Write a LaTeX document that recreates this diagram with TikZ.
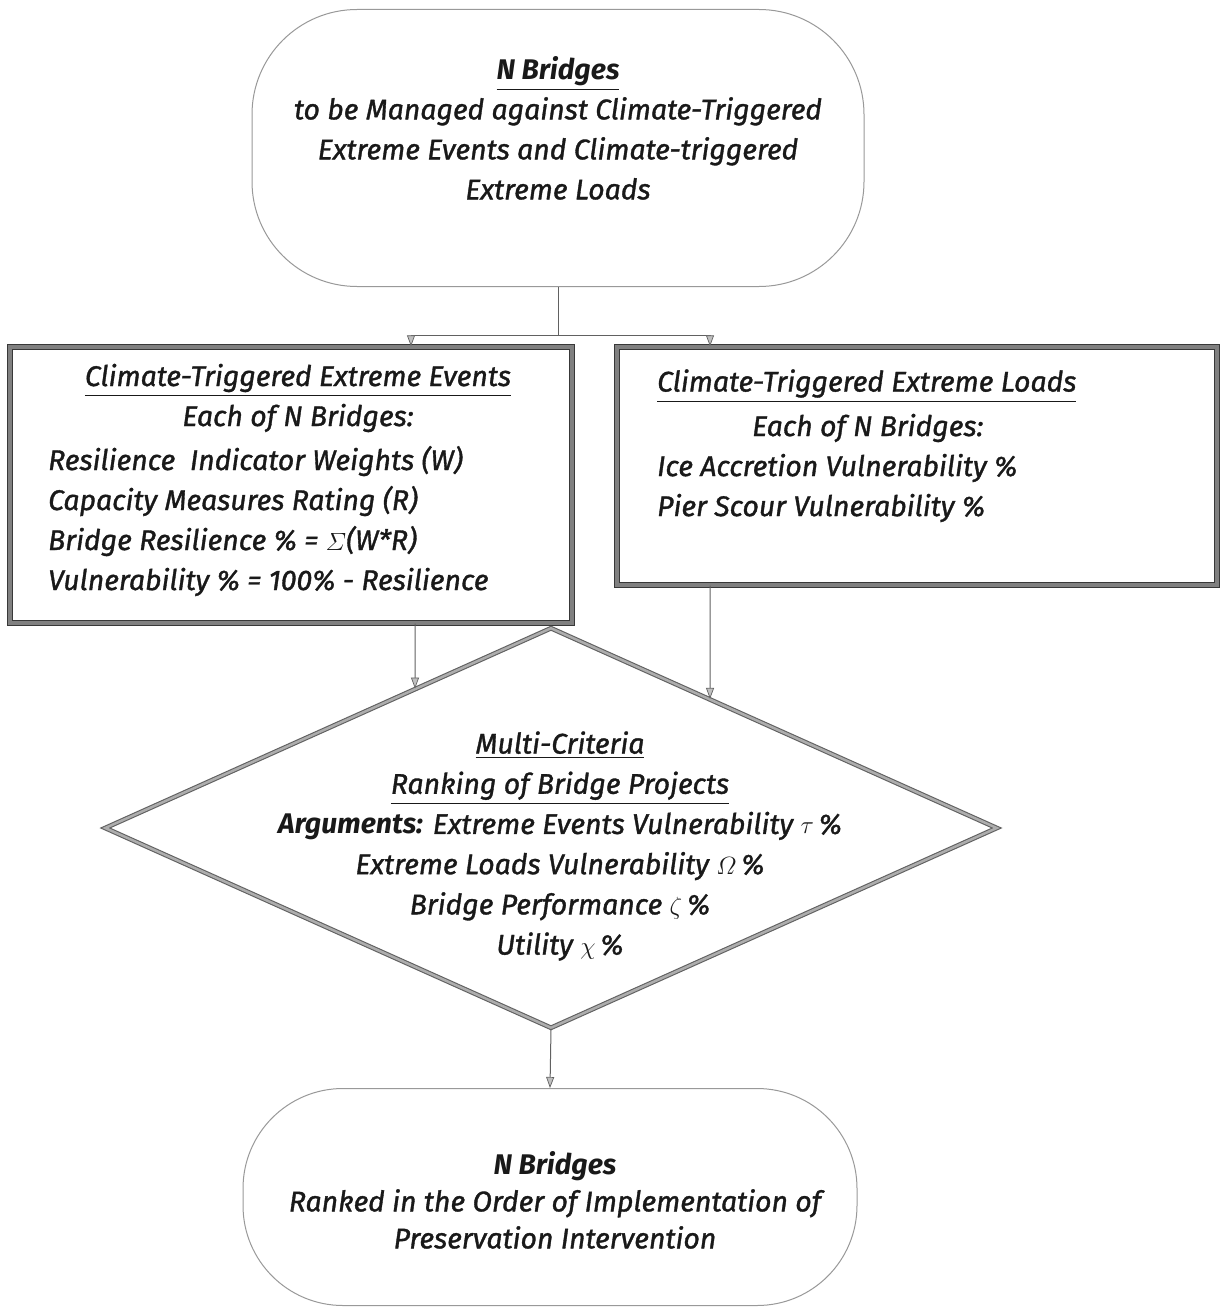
\documentclass[tikz,border=0pt]{standalone}
\usepackage{amsmath}
\usepackage{fontspec}
\setmainfont{Fira Sans}[ItalicFeatures={FakeBold=1.2}]
\usetikzlibrary{shapes.geometric,arrows.meta}

\tikzset{
  plainline/.style={draw=black!62, line width=1pt},
  arrowline/.style={plainline, -{Triangle[length=11pt,width=8pt,fill=gray!50,color=black!62,line width=0.7pt]}},
  terminal/.style={draw=black!40, line width=1pt, fill=white, inner sep=0pt},
  framebox/.style={draw=black!78, double=black!50, double distance=3.5pt, line width=1.4pt, fill=white, inner sep=0pt},
  decision/.style={diamond, draw=black!62, double=black!32, double distance=2.5pt, line width=1.1pt, fill=white, inner sep=0pt},
  txt/.style={font=\itshape\fontsize{28.4}{40}\selectfont, text=black!90, inner sep=0pt},
}

\begin{document}
\begin{tikzpicture}[x=1pt, y=-1pt]
\useasboundingbox (0,0) rectangle (1220,1316);
\path[fill=white] (0,0) rectangle (1220,1316);

% start terminal
\node[terminal, rounded corners=105pt, minimum width=612pt, minimum height=277pt] (top) at (558,148) {};
\node[txt, align=center] (toptext) at (558,128)
  {\textbf{\underline{N Bridges}}\\to be Managed against Climate-Triggered\\Extreme Events and Climate-triggered\\Extreme Loads};

% two assessment boxes
\node[framebox, minimum width=562pt, minimum height=276pt] (lbox) at (291,485) {};
\node[txt, align=center] (lhead) at (298,398)
  {\underline{Climate-Triggered Extreme Events}\\Each of N Bridges:};
\node[txt, align=left, anchor=west] (lbody) at (48,521)
  {Resilience\ \ Indicator Weights (W)\\Capacity Measures Rating (R)\\Bridge Resilience \% = $\varSigma$(W*R)\\Vulnerability \% = 100\% - Resilience};

\node[framebox, minimum width=600pt, minimum height=238pt] (rbox) at (917,466) {};
\node[txt, anchor=west] (rhead) at (657,386) {\underline{Climate-Triggered Extreme Loads}};
\node[txt, anchor=west] (reach) at (752,428) {Each of N Bridges:};
\node[txt, anchor=west, align=left] (rbody) at (657,488)
  {Ice Accretion Vulnerability \%\\Pier Scour Vulnerability \%};

% ranking decision
\node[decision, minimum width=892pt, minimum height=400pt] (dia) at (551,828) {};
\node[txt, align=center, font=\itshape\fontsize{28.4}{40.2}\selectfont] (dtext) at (560,846)
  {\underline{Multi-Criteria}\\\underline{Ranking of Bridge Projects}\\\textbf{Arguments:} Extreme Events Vulnerability $\tau$\,\%\\Extreme Loads Vulnerability $\varOmega$\,\%\\Bridge Performance $\zeta$\,\%\\Utility $\chi$\,\%};

% end terminal
\node[terminal, rounded corners=100pt, minimum width=614pt, minimum height=217pt] (bot) at (550,1197) {};
\node[txt, align=center, font=\itshape\fontsize{28.4}{37}\selectfont] (bottext) at (555,1200)
  {\textbf{N Bridges}\\Ranked in the Order of Implementation of\\Preservation Intervention};

% connectors
\coordinate (split) at (558,335);
\coordinate (jl) at (411,335);
\coordinate (jr) at (710,335);
\draw[plainline] (top.south) -- (split);
\draw[plainline] (jl) -- (jr);
\draw[arrowline] (jl) -- (jl |- lbox.north);
\draw[arrowline] (jr) -- (jr |- rbox.north);

\coordinate (dl) at (415,600);
\coordinate (dlb) at (415,900);
\coordinate (dr) at (710,600);
\coordinate (drb) at (710,900);
\draw[arrowline] (lbox.south -| dl) -- (intersection of dl--dlb and dia.north--dia.west);
\draw[arrowline] (rbox.south -| dr) -- (intersection of dr--drb and dia.north--dia.east);
\draw[arrowline] (dia.south) -- (bot.north);
\end{tikzpicture}
\end{document}
